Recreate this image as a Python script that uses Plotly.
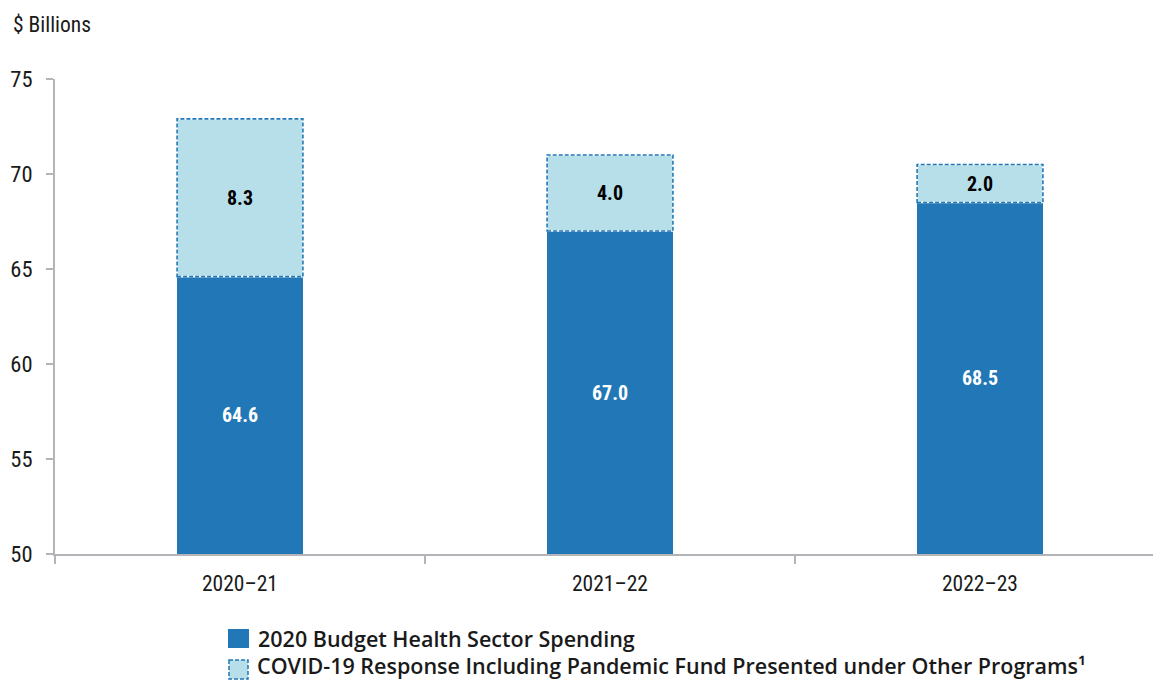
import plotly.graph_objects as go

# Fiscal years and spending components ($ billions)
years = ["2020\u201321", "2021\u201322", "2022\u201323"]
budget_spending = [64.6, 67.0, 68.5]
covid_response = [8.3, 4.0, 2.0]
series_names = [
    "2020 Budget Health Sector Spending",
    "COVID-19 Response Including Pandemic Fund Presented under Other Programs\u00b9",
]
y_ticks = [50, 55, 60, 65, 70, 75]

DARK = "#2277b6"
LIGHT = "#b7dfe9"
AXIS = "#b4b4b8"
NARROW = "Roboto Condensed, Arial Narrow, sans-serif"
LEGEND_FONT = "Open Sans, Lato, sans-serif"
BAR_W = 0.34
Y_MIN, Y_MAX = 50, 75

fig = go.Figure()

fig.add_trace(go.Bar(
    x=years, y=budget_spending, name=series_names[0],
    marker=dict(color=DARK, line=dict(width=0)),
    width=BAR_W, showlegend=False, hoverinfo="skip",
))
fig.add_trace(go.Bar(
    x=years, y=covid_response, name=series_names[1],
    marker=dict(color=LIGHT, line=dict(width=0)),
    width=BAR_W, showlegend=False,
    text=[f"{v:.1f}" for v in covid_response],
    textposition="inside", insidetextanchor="middle",
    textfont=dict(family=NARROW, size=20, color="black", weight="bold"),
    hoverinfo="skip",
))

# Labels for the lower segments, centred on the visible part of each bar
for i, v in enumerate(budget_spending):
    fig.add_annotation(
        x=years[i], y=(Y_MIN + v) / 2, xref="x", yref="y",
        text=f"<b>{v:.1f}</b>", showarrow=False,
        font=dict(family=NARROW, size=20, color="white"),
    )

# Dashed outline around the COVID-19 segments
for i, (b, c) in enumerate(zip(budget_spending, covid_response)):
    for col, dash in (("white", "solid"), (DARK, "4px,2px")):
        fig.add_shape(
            type="rect", xref="x", yref="y",
            x0=i - BAR_W / 2, x1=i + BAR_W / 2, y0=b, y1=b + c,
            line=dict(color=col, width=1.6, dash=dash),
            fillcolor="rgba(0,0,0,0)", layer="above",
        )

# Legend drawn as swatches and text in paper coordinates
PW = 1153 - 55
PH = 681 - 79 - 127
def px_x(p):
    return (p - 55) / PW
def px_y(p):
    return (681 - 127 - p) / PH

legend_font = dict(family=LEGEND_FONT, size=21.5, color="#1a1a1a", weight=600)
fig.add_annotation(
    x=px_x(256), y=px_y(638), xref="paper", yref="paper",
    xanchor="left", yanchor="middle", showarrow=False,
    text=series_names[0], font=legend_font,
)
fig.add_annotation(
    x=px_x(256), y=px_y(681), xref="paper", yref="paper",
    xanchor="left", yanchor="bottom", showarrow=False, borderpad=0,
    text=series_names[1], font=legend_font,
)
fig.add_shape(type="rect", xref="paper", yref="paper",
              x0=px_x(228), x1=px_x(249), y0=px_y(629), y1=px_y(648),
              fillcolor=DARK, line=dict(width=0))
fig.add_shape(type="rect", xref="paper", yref="paper",
              x0=px_x(229), x1=px_x(248), y0=px_y(660), y1=px_y(679),
              fillcolor=LIGHT, line=dict(color=DARK, width=1.5, dash="4px,2px"))

# Axis unit label
fig.add_annotation(
    x=px_x(11), y=px_y(25), xref="paper", yref="paper",
    xanchor="left", yanchor="middle", showarrow=False,
    text="$ Billions", font=dict(family=NARROW, size=21.5, color="#1a1a1a"),
)

fig.update_layout(
    width=1153, height=681,
    margin=dict(l=55, r=0, t=79, b=127),
    barmode="stack", bargap=0,
    plot_bgcolor="white", paper_bgcolor="white",
    showlegend=False,
    font=dict(family=NARROW, color="#1a1a1a"),
)
fig.update_xaxes(
    range=[-0.5, (1153 - 55) / 370 - 0.5],
    showline=True, linecolor=AXIS, linewidth=2,
    ticks="outside", tickson="boundaries", ticklen=8, tickcolor=AXIS, tickwidth=2,
    tickfont=dict(family=NARROW, size=21.5, color="#1a1a1a"),
    ticklabelstandoff=9,
    showgrid=False, zeroline=False,
)
fig.update_yaxes(
    range=[Y_MIN, Y_MAX], tickvals=y_ticks,
    showline=True, linecolor=AXIS, linewidth=2,
    ticks="outside", ticklen=7, tickcolor=AXIS, tickwidth=2,
    tickfont=dict(family=NARROW, size=22.5, color="#1a1a1a"),
    ticklabelstandoff=9,
    showgrid=False, zeroline=False,
)

fig.write_html("out.html")
